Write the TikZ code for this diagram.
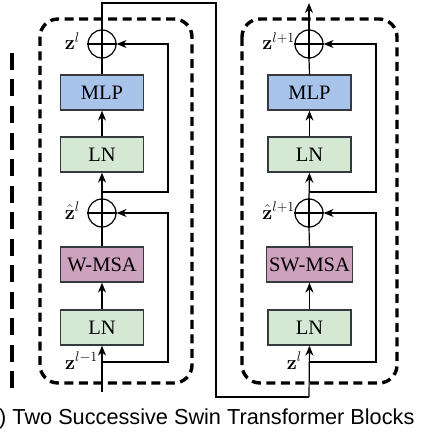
\RequirePackage{fix-cm}
\documentclass[tikz,border=0pt]{standalone}
\usepackage[no-math]{fontspec}
\setmainfont{Liberation Serif}
\newfontfamily\capfont{Liberation Sans}
\usetikzlibrary{arrows.meta}
\definecolor{mlpblue}{HTML}{A9C4EB}
\definecolor{lngreen}{HTML}{D5E8D4}
\definecolor{msapink}{HTML}{CDA2BE}
\definecolor{edgegray}{HTML}{36393D}
\tikzset{
  blk/.style={draw=edgegray, line width=1.3pt, minimum width=83pt, minimum height=35pt,
    inner sep=0pt, font=\fontsize{20.5}{22}\selectfont},
  mlpbox/.style={blk, fill=mlpblue},
  lnbox/.style={blk, fill=lngreen},
  msabox/.style={blk, fill=msapink},
  addc/.style={draw=black, circle, line width=1.2pt, minimum size=28pt, inner sep=0pt},
  conn/.style={draw=black, line width=1.2pt},
  arr/.style={conn, -{Stealth[length=10pt,width=8pt]}},
  lbl/.style={font=\fontsize{20}{22}\selectfont, inner sep=0pt},
  blockframe/.style={draw=black, line width=3.4pt, dash pattern=on 9pt off 5.5pt, rounded corners=18pt},
}
\begin{document}
\begin{tikzpicture}[x=1pt,y=-1pt]
\useasboundingbox (0,0) rectangle (436,433);
% frames
\draw[blockframe] (40,19) rectangle (192,383);
\draw[blockframe] (242,19) rectangle (397,383);
\draw[line width=4.5pt, dash pattern=on 17pt off 9.5pt] (12,53) -- (12,388);
% left block
\node[lnbox] (ln1) at (102,327.5) {LN};
\node[msabox] (msa1) at (102,264.5) {W-MSA};
\node[addc] (c1) at (102,213) {};
\node[lnbox] (ln2) at (102,154.5) {LN};
\node[mlpbox] (mlp1) at (102,92.5) {MLP};
\node[addc] (c2) at (102,44) {};
\foreach \c in {c1,c2}{\draw[conn] (\c.north) -- (\c.south); \draw[conn] (\c.west) -- (\c.east);}
\coordinate (inL) at (102,392);
\coordinate (r1a) at (102,362);
\coordinate (r1b) at (168,362);
\coordinate (r1c) at (168,213);
\coordinate (r2a) at (102,192);
\coordinate (r2b) at (168,192);
\coordinate (r2c) at (168,44);
\draw[arr] (inL) -- (ln1.south);
\draw[arr] (ln1.north) -- (msa1.south);
\draw[conn] (msa1.north) -- (c1.south);
\draw[arr] (r1a) -- (r1b) -- (r1c) -- (c1.east);
\draw[arr] (c1.north) -- (ln2.south);
\draw[arr] (ln2.north) -- (mlp1.south);
\draw[conn] (mlp1.north) -- (c2.south);
\draw[arr] (r2a) -- (r2b) -- (r2c) -- (c2.east);
\node[lbl, anchor=base east] (zl1) at (98,369) {$\mathbf{z}^{l-1}$};
\node[lbl, anchor=base east] (zh1) at (80,219) {$\hat{\mathbf{z}}^{l}$};
\node[lbl, anchor=base east] (zo1) at (80,50) {$\mathbf{z}^{l}$};
% right block
\node[lnbox] (ln3) at (309.5,327.5) {LN};
\node[msabox, minimum width=86pt] (msa2) at (309.5,264.5) {SW-MSA};
\node[addc] (c3) at (309,213) {};
\node[lnbox] (ln4) at (309.5,154.5) {LN};
\node[mlpbox] (mlp2) at (309.5,92.5) {MLP};
\node[addc] (c4) at (309,44) {};
\foreach \c in {c3,c4}{\draw[conn] (\c.north) -- (\c.south); \draw[conn] (\c.west) -- (\c.east);}
\coordinate (t1) at (102,3);
\coordinate (t2) at (216,3);
\coordinate (t3) at (216,397);
\coordinate (t4) at (309,397);
\coordinate (r3a) at (309,362);
\coordinate (r3b) at (376,362);
\coordinate (r3c) at (376,213);
\coordinate (r4a) at (309,192);
\coordinate (r4b) at (376,192);
\coordinate (r4c) at (376,44);
\coordinate (outR) at (309,3);
\draw[conn] (c2.north) -- (t1) -- (t2) -- (t3) -- (t4);
\draw[arr] (t4) -- (ln3.south);
\draw[arr] (ln3.north) -- (msa2.south);
\draw[conn] (msa2.north) -- (c3.south);
\draw[arr] (r3a) -- (r3b) -- (r3c) -- (c3.east);
\draw[arr] (c3.north) -- (ln4.south);
\draw[arr] (ln4.north) -- (mlp2.south);
\draw[conn] (mlp2.north) -- (c4.south);
\draw[arr] (r4a) -- (r4b) -- (r4c) -- (c4.east);
\draw[arr] (c4.north) -- (outR);
\node[lbl, anchor=base east] (zl2) at (302,369) {$\mathbf{z}^{l}$};
\node[lbl, anchor=base east] (zh2) at (295,219) {$\hat{\mathbf{z}}^{l+1}$};
\node[lbl, anchor=base east] (zo2) at (295,50) {$\mathbf{z}^{l+1}$};
% caption
\node[anchor=base west, inner sep=0pt, font=\capfont\fontsize{21.7}{24}\selectfont] (cap) at (-1,424) {) Two Successive Swin Transformer Blocks};
\end{tikzpicture}
\end{document}
